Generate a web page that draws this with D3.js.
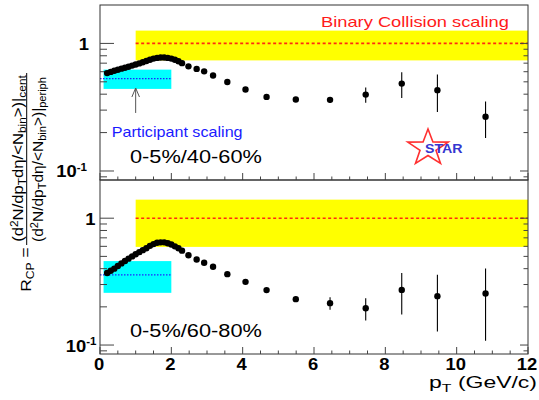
<!DOCTYPE html>
<html><head><meta charset="utf-8">
<script src="https://cdnjs.cloudflare.com/ajax/libs/d3/7.8.5/d3.min.js"></script>
<style>
body{margin:0;background:#fff}
svg{display:block}
text{font-family:"Liberation Sans",Arial,Helvetica,sans-serif}
</style>
</head><body>
<svg id="c" width="539" height="400"></svg>
<script>
// ---------------- data ----------------
const ptBins = [0.2,0.3,0.4,0.5,0.6,0.7,0.8,0.9,1.0,1.1,1.2,1.3,1.4,1.5,1.6,1.7,1.8,1.9,2.0,2.1,2.2,2.3,
                2.48,2.71,2.92,3.17,3.57,4.08,4.67,5.49,6.45,7.45,8.46,9.46,10.81];
const rcp40to60 = [0.585,0.598,0.61,0.622,0.634,0.645,0.657,0.67,0.683,0.697,0.712,0.728,0.745,0.76,0.77,0.775,0.775,0.77,0.76,0.745,0.725,0.70,
                   0.661,0.631,0.604,0.56,0.499,0.435,0.381,0.363,0.361,0.397,0.484,0.43,0.266];
const err40to60 = [0,0,0,0,0,0,0,0,0,0,0,0,0,0,0,0,0,0,0,0,0,0,
                   0.005,0.005,0.005,0.006,0.006,0.007,0.008,0.01,0.02,0.055,0.11,0.14,0.085];
const rcp60to80 = [0.37,0.385,0.40,0.42,0.44,0.46,0.48,0.50,0.52,0.54,0.56,0.58,0.605,0.625,0.64,0.645,0.645,0.635,0.62,0.60,0.58,0.555,
                   0.511,0.473,0.445,0.414,0.362,0.315,0.271,0.230,0.214,0.195,0.272,0.243,0.255];
const err60to80 = [0,0,0,0,0,0,0,0,0,0,0,0,0,0,0,0,0,0,0,0,0,0,
                   0.005,0.005,0.005,0.005,0.006,0.006,0.007,0.01,0.024,0.039,0.098,0.115,0.147];
const panelLabels = ["0-5%/40-60%","0-5%/60-80%"];
const binaryBand40 = [0.736,1.26];
const binaryBand60 = [0.594,1.40];
const partBand40 = [0.44,0.623];
const partBand60 = [0.258,0.459];
const partLevel40 = 0.53;
const partLevel60 = 0.358;
const binaryRange = [1,12];
const partRange = [0.1,2];
const xTickValues = [0,2,4,6,8,10,12];
const xDomain = [0,12];
const yDomain = [0.085,2];

// ---------------- layout ----------------
const svg = d3.select("#c");
const X0 = 100, X1 = 528;
const x = d3.scaleLinear().domain(xDomain).range([X0,X1]);

function fitText(g, width){
  const t = g.select("text").node();
  const w = t.getBBox().width;
  const s = width / w;
  const tr = g.attr("transform");
  g.attr("transform", tr + ` scale(${s},1)`);
}
function addText(x0,y0,str,o){
  const g = svg.append("g").attr("transform",`translate(${x0},${y0})` + (o.rot?` rotate(${o.rot})`:""));
  const t = g.append("text").attr("x",0).attr("y",0)
    .attr("font-size",o.size).attr("font-weight",o.weight||"normal")
    .attr("fill",o.fill||"#000").attr("text-anchor",o.anchor||"start");
  if (typeof str === "string") t.text(str);
  else str.forEach(p=>{
    const ts = t.append("tspan").text(p.t);
    if (p.dy) ts.attr("dy",p.dy);
    if (p.size) ts.attr("font-size",p.size);
  });
  if (o.width) fitText(g,o.width);
  else if (o.sx) g.attr("transform", g.attr("transform")+` scale(${o.sx},1)`);
  return g;
}

const panels = [
  {top:5, bottom:180, rcp:rcp40to60, err:err40to60, bb:binaryBand40, pb:partBand40, pl:partLevel40,
   label:panelLabels[0], labY:162.7, tickEnd:89},
  {top:180, bottom:354, rcp:rcp60to80, err:err60to80, bb:binaryBand60, pb:partBand60, pl:partLevel60,
   label:panelLabels[1], labY:336.7, tickEnd:95.5}
];

panels.forEach((p,i)=>{
  const y = d3.scaleLog().domain(yDomain).range([p.bottom,p.top]);
  p.y = y;
  const g = svg.append("g");
  // bands
  g.append("rect").attr("x",x(binaryRange[0])).attr("width",x(binaryRange[1])-x(binaryRange[0]))
    .attr("y",y(p.bb[1])).attr("height",y(p.bb[0])-y(p.bb[1])).attr("fill","#ffff00");
  g.append("rect").attr("x",x(partRange[0])).attr("width",x(partRange[1])-x(partRange[0]))
    .attr("y",y(p.pb[1])).attr("height",y(p.pb[0])-y(p.pb[1])).attr("fill","#00ffff");
  g.append("line").attr("x1",x(binaryRange[0])).attr("x2",x(binaryRange[1]))
    .attr("y1",y(1)).attr("y2",y(1)).attr("stroke","#ff2a10").attr("stroke-width",1.6)
    .attr("stroke-dasharray","3,2.5");
  g.append("line").attr("x1",x(0)).attr("x2",x(partRange[1]))
    .attr("y1",y(p.pl)).attr("y2",y(p.pl)).attr("stroke","#2020ff").attr("stroke-width",1.3)
    .attr("stroke-dasharray","1.5,1.5");

  // frame
  g.append("rect").attr("x",X0).attr("y",p.top).attr("width",X1-X0).attr("height",p.bottom-p.top)
    .attr("fill","none").attr("stroke","#333").attr("stroke-width",1);

  // y ticks (log)
  const yt = [];
  [0.01,0.1,1].forEach(d=>{ for(let k=1;k<=9;k++){ const v=+(d*k).toPrecision(3); if(v>=yDomain[0]&&v<yDomain[1]) yt.push({v,major:k===1}); }});
  g.selectAll(".yl").data(yt).join("line")
    .attr("x1",X0).attr("x2",d=>X0+(d.major?14:7))
    .attr("y1",d=>y(d.v)).attr("y2",d=>y(d.v)).attr("stroke","#444").attr("stroke-width",1);
  g.selectAll(".yr").data(yt).join("line")
    .attr("x1",X1).attr("x2",d=>X1-(d.major?8:4.5))
    .attr("y1",d=>y(d.v)).attr("y2",d=>y(d.v)).attr("stroke","#444").attr("stroke-width",1);
  // x ticks
  const xt = d3.range(0,12.01,0.5).map(v=>({v,major:v%2===0}));
  g.selectAll(".xt").data(xt).join("line")
    .attr("x1",d=>x(d.v)).attr("x2",d=>x(d.v))
    .attr("y1",p.bottom).attr("y2",d=>p.bottom-(d.major?7:3.5)).attr("stroke","#444").attr("stroke-width",1);

  // y tick labels
  addText(p.tickEnd, y(1)+6.5, "1", {size:16, weight:"bold", anchor:"end", sx:1.15});
  addText(p.tickEnd+(i===0?-2:1), y(0.1)+6.5, [{t:"10"},{t:"-1",dy:-7,size:10}], {size:16, weight:"bold", anchor:"end", sx:1.15});

  // data
  const pts = ptBins.map((pt,j)=>({pt, v:p.rcp[j], e:p.err[j]}));
  g.selectAll(".eb").data(pts.filter(d=>d.e>0)).join("line")
    .attr("x1",d=>x(d.pt)).attr("x2",d=>x(d.pt))
    .attr("y1",d=>y(d.v-d.e)).attr("y2",d=>y(d.v+d.e)).attr("stroke","#000").attr("stroke-width",1.1);
  g.selectAll(".pt").data(pts).join("circle")
    .attr("cx",d=>x(d.pt)).attr("cy",d=>y(d.v)).attr("r",3.2).attr("fill","#000");

  // panel label
  addText(130, p.labY, p.label, {size:18.5, width:132});
});

// x tick labels
xTickValues.forEach(v=>{
  addText(x(v)-1, 370, String(v), {size:16, weight:"bold", anchor:"middle", sx:1.15});
});
addText(537, 388, [{t:"p"},{t:"T",dy:4,size:11},{t:" (GeV/c)",dy:-4}], {size:16, anchor:"end", width:108});

// top panel annotations
const yTop = panels[0].y;
addText(321, 27.3, "Binary Collision scaling", {size:15, fill:"#ff1a1a", width:188});
addText(111.7, 137, "Participant scaling", {size:14.5, fill:"#1a1aff", width:131});
const arrowX = 1.0, arrowFrom = 0.285, arrowTo = 0.447;
svg.append("line").attr("x1",x(arrowX)).attr("x2",x(arrowX)).attr("y1",yTop(arrowFrom)).attr("y2",yTop(arrowTo))
  .attr("stroke","#555").attr("stroke-width",1);
svg.append("path").attr("d",`M${x(arrowX)-3.8},${yTop(arrowTo)+9} L${x(arrowX)},${yTop(arrowTo)} L${x(arrowX)+3.8},${yTop(arrowTo)+9}`)
  .attr("fill","none").attr("stroke","#555").attr("stroke-width",1);

// STAR logo
(function(){
  const cx=428, cy=148, R=19, r=7.5;
  const pts=[];
  for(let k=0;k<10;k++){
    const a=-Math.PI/2 + k*Math.PI/5;
    const rr = k%2===0?R:r;
    pts.push([cx+rr*Math.cos(a)*1.12, cy+rr*Math.sin(a)]);
  }
  svg.append("path").attr("d","M"+pts.map(p=>p.join(",")).join("L")+"Z")
    .attr("fill","none").attr("stroke","#ff3030").attr("stroke-width",1.6);
  addText(425, 153, "STAR", {size:12, weight:"bold", fill:"#3535d0", width:38});
})();

// y axis title
addText(22.7, 158.5, [{t:"(d"},{t:"2",dy:-5,size:10},{t:"N/dp",dy:5},{t:"T",dy:3,size:10},{t:"d\u03b7/<N",dy:-3},{t:"bin",dy:3,size:10},{t:">)|",dy:-3},{t:"cent",dy:3,size:10}],
  {size:14, rot:-90, anchor:"middle", width:167});
addText(42.7, 159.5, [{t:"(d"},{t:"2",dy:-5,size:10},{t:"N/dp",dy:5},{t:"T",dy:3,size:10},{t:"d\u03b7/<N",dy:-3},{t:"bin",dy:3,size:10},{t:">)|",dy:-3},{t:"periph",dy:3,size:10}],
  {size:14, rot:-90, anchor:"middle", width:165});
svg.append("line").attr("x1",26.7).attr("x2",26.7).attr("y1",73).attr("y2",245).attr("stroke","#000").attr("stroke-width",1);
addText(31, 269.5, [{t:"R"},{t:"CP",dy:3,size:10.5},{t:" =",dy:-3}], {size:15, rot:-90, anchor:"middle", width:45});
</script>
</body></html>
